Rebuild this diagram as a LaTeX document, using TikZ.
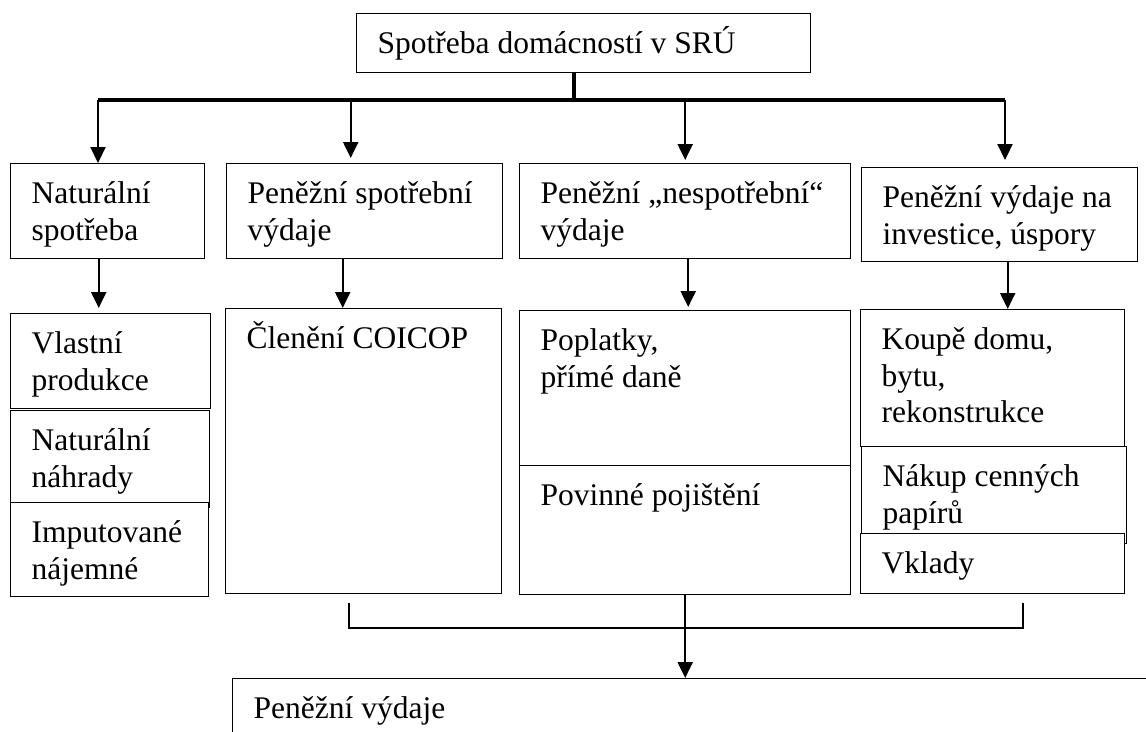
\documentclass[tikz,border=0pt]{standalone}
\usepackage{fontspec}
\setmainfont{Liberation Serif}
\usetikzlibrary{arrows.meta}

\begin{document}
\begin{tikzpicture}[
    x=1pt, y=-1pt,
    box/.style={draw, line width=1.4pt, anchor=north west, fill=white,
                inner xsep=21pt, inner ysep=0pt, align=flush left, text height=40pt,
                font=\fontsize{31.5}{36.5}\selectfont},
    arr/.style={-{Triangle[length=16pt,width=15pt]}, line width=2.2pt},
    trunk/.style={line width=4.5pt},
    rail/.style={line width=3.2pt},
    collect/.style={line width=2.8pt}
  ]
  \useasboundingbox (0,0) rectangle (1146,731);

  % top
  \node[box, text width=412pt, text depth=19pt] (top) at (356,13)
        {Spotřeba domácností v SRÚ};

  % first level
  \node[box, text width=152pt, text depth=55pt] (nat) at (10,163)
        {Naturální\\ spotřeba};
  \node[box, text width=234pt, text depth=55pt] (pens) at (226,163)
        {Peněžní~spotřební\\ výdaje};
  \node[box, text width=289pt, text depth=55pt] (pnes) at (519,163)
        {Peněžní~„nespotřební“\\ výdaje};
  \node[box, text width=234pt, text depth=54pt] (inv) at (861,167)
        {Peněžní~výdaje~na\\ investice,~úspory};

  % second level
  \node[box, text width=158pt, text depth=55pt] (vlp) at (10,313)
        {Vlastní\\ produkce};
  \node[box, text width=157pt, text depth=57pt] (nnh) at (10,410)
        {Naturální\\ náhrady};
  \node[box, text width=156pt, text depth=54pt] (imp) at (10,502)
        {Imputované\\ nájemné};
  \node[box, text width=234pt, text depth=245pt] (coicop) at (225,308)
        {Členění~COICOP};
  \node[box, text width=289pt, text depth=115pt] (popl) at (519,310)
        {Poplatky,\\ přímé~daně};
  \node[box, text width=289pt, text depth=89pt] (povi) at (519,465)
        {Povinné~pojištění};
  \node[box, text width=222pt, text depth=97pt] (koupe) at (860,309)
        {Koupě~domu,\\ bytu,\\ rekonstrukce};
  \node[box, text width=223pt, text depth=57pt] (nakup) at (861,446)
        {Nákup~cenných\\ papírů};
  \node[box, text width=222pt, text depth=20pt] (vklady) at (860,533)
        {Vklady};

  % result
  \node[box, text width=958pt, text depth=60pt] (vydaje) at (232,678)
        {Peněžní výdaje};

  % split from the top
  \coordinate (split) at (574,100);
  \coordinate (railL) at (98,100);
  \coordinate (railR) at (1005,100);
  \draw[trunk] (top.south -| split) -- (split);
  \draw[rail] (railL) -- (railR);
  \draw[arr] (railL) -- (railL |- nat.north);
  \draw[arr] ([xshift=-14pt,yshift=2pt]pens.north |- railL)
        -- ([xshift=-14pt,yshift=5pt]pens.north);
  \draw[arr] (pnes.north |- railL) -- ([yshift=3pt]pnes.north);
  \draw[arr] (railR) -- ([yshift=7pt]railR |- inv.north);

  % down to the items
  \draw[arr] ([xshift=-9pt]nat.south) -- ([xshift=-9pt,yshift=5pt]nat.south |- vlp.north);
  \draw[arr] ([xshift=-22pt]pens.south) -- ([xshift=-22pt]pens.south |- coicop.north);
  \draw[arr] ([xshift=3pt]pnes.south) -- ([xshift=3pt,yshift=3pt]pnes.south |- popl.north);
  \draw[arr] ([xshift=8pt]inv.south) -- ([xshift=8pt]inv.south |- koupe.north);

  % join into the result
  \coordinate (joinL) at (349,603);
  \coordinate (joinR) at (1023,603);
  \draw[collect] (joinL) -- ++(0,25) -| (joinR);
  \draw[arr] (povi.south) -- (povi.south |- vydaje.north);
\end{tikzpicture}
\end{document}
